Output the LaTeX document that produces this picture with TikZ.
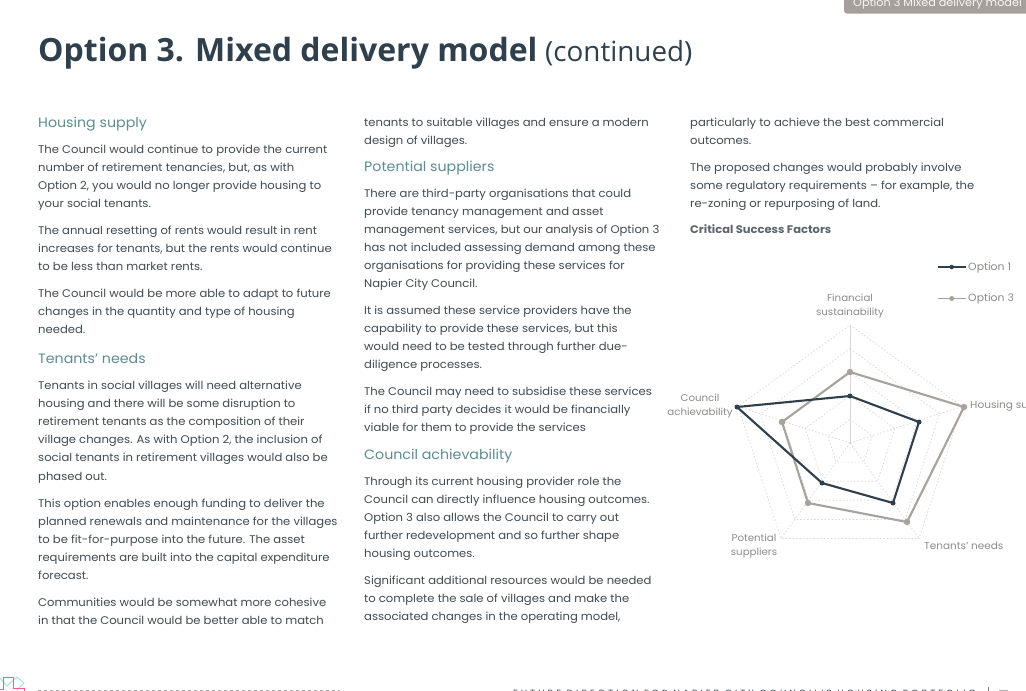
\documentclass[tikz,border=0pt]{standalone}
\usepackage{fontspec}
\usetikzlibrary{calc}
\setmainfont{Poppins}[FakeStretch=1.045]
\newfontfamily\titlefont{Open Sans}
\definecolor{bodyc}{HTML}{3F4A52}
\definecolor{headc}{HTML}{5E8C90}
\definecolor{darkc}{HTML}{2F3F4C}
\definecolor{greyc}{HTML}{A9A29C}
\definecolor{labelc}{HTML}{8C8C8A}
\definecolor{gridc}{HTML}{D8D8D8}
\definecolor{tabc}{HTML}{A5A09B}
\definecolor{logop}{HTML}{F0608F}
\definecolor{logoc}{HTML}{A0E0E4}
\newcounter{tln}
\newcommand{\tl}[3]{\stepcounter{tln}\node[bodyline] (t\arabic{tln}) at (#1,#2+4) {#3};}
\newcommand{\hd}[3]{\stepcounter{tln}\node[headline] (t\arabic{tln}) at (#1,#2+5) {#3};}
\tikzset{
 bodyline/.style={anchor=base west,inner sep=0,text=bodyc,font=\fontsize{11.1}{12}\selectfont},
 headline/.style={anchor=base west,inner sep=0,text=headc,font=\fontsize{13.6}{15}\selectfont},
 axislabel/.style={inner sep=0,text=labelc,font=\fontsize{9.8}{14}\selectfont,align=center},
 gridline/.style={draw=gridc,line width=.7pt,dash pattern=on 1.5pt off 2pt},
 serone/.style={draw=darkc,line width=2.1pt,line join=round},
 sertwo/.style={draw=greyc,line width=2.1pt,line join=round},
 dotone/.style={circle,fill=darkc,inner sep=0,minimum size=5pt},
 dottwo/.style={circle,fill=greyc,inner sep=0,minimum size=6.5pt},
}
\begin{document}
\begin{tikzpicture}[x=1pt,y=-1pt]
\useasboundingbox (0,0) rectangle (1026,691);
\clip (0,0) rectangle (1026,691);
\fill[white] (0,0) rectangle (1026,691);
% tab
\fill[tabc,rounded corners=3pt] (844,-10) rectangle (1040,13.5);
\node[anchor=base west,inner sep=0,text=white!92!tabc,font=\fontsize{10.75}{12}\selectfont] (tab) at (853,6.5) {Option 3 Mixed delivery model};
% title
\node[anchor=base west,inner sep=0,text=darkc,font=\titlefont\fontsize{32}{36}\selectfont\bfseries] (title) at (38,61) {Option 3. Mixed delivery model};
\node[anchor=base west,inner sep=0,text=darkc,font=\titlefont\fontsize{27.8}{30}\selectfont] (titlecont) at (545,61) {(continued)};
% column 1
\hd{38}{122}{Housing supply}
\tl{38}{149}{The Council would continue to provide the current}
\tl{38}{167}{number of retirement tenancies, but, as with}
\tl{38}{185}{Option 2, you would no longer provide housing to}
\tl{38}{203}{your social tenants.}
\tl{38}{230}{The annual resetting of rents would result in rent}
\tl{38}{248}{increases for tenants, but the rents would continue}
\tl{38}{266}{to be less than market rents.}
\tl{38}{293}{The Council would be more able to adapt to future}
\tl{38}{311}{changes in the quantity and type of housing}
\tl{38}{329}{needed.}
\hd{38}{358}{Tenants' needs}
\tl{38}{385}{Tenants in social villages will need alternative}
\tl{38}{403}{housing and there will be some disruption to}
\tl{38}{421}{retirement tenants as the composition of their}
\tl{38}{439}{village changes. As with Option 2, the inclusion of}
\tl{38}{457}{social tenants in retirement villages would also be}
\tl{38}{476}{phased out.}
\tl{38}{503}{This option enables enough funding to deliver the}
\tl{38}{521}{planned renewals and maintenance for the villages}
\tl{38}{539}{to be fit-for-purpose into the future. The asset}
\tl{38}{557}{requirements are built into the capital expenditure}
\tl{38}{575}{forecast.}
\tl{38}{602}{Communities would be somewhat more cohesive}
\tl{38}{620}{in that the Council would be better able to match}
% column 2
\tl{364}{122}{tenants to suitable villages and ensure a modern}
\tl{364}{140}{design of villages.}
\hd{364}{166}{Potential suppliers}
\tl{364}{193}{There are third-party organisations that could}
\tl{364}{211}{provide tenancy management and asset}
\tl{364}{229}{management services, but our analysis of Option 3}
\tl{364}{247}{has not included assessing demand among these}
\tl{364}{265}{organisations for providing these services for}
\tl{364}{283}{Napier City Council.}
\tl{364}{310}{It is assumed these service providers have the}
\tl{364}{328}{capability to provide these services, but this}
\tl{364}{346}{would need to be tested through further due-}
\tl{364}{364}{diligence processes.}
\tl{364}{391}{The Council may need to subsidise these services}
\tl{364}{409}{if no third party decides it would be financially}
\tl{364}{427}{viable for them to provide the services}
\hd{364}{454}{Council achievability}
\tl{364}{481}{Through its current housing provider role the}
\tl{364}{499}{Council can directly influence housing outcomes.}
\tl{364}{517}{Option 3 also allows the Council to carry out}
\tl{364}{535}{further redevelopment and so further shape}
\tl{364}{553}{housing outcomes.}
\tl{364}{580}{Significant additional resources would be needed}
\tl{364}{598}{to complete the sale of villages and make the}
\tl{364}{616}{associated changes in the operating model,}
% column 3
\tl{690}{122}{particularly to achieve the best commercial}
\tl{690}{140}{outcomes.}
\tl{690}{167}{The proposed changes would probably involve}
\tl{690}{185}{some regulatory requirements – for example, the}
\tl{690}{203}{re-zoning or repurposing of land.}
\node[bodyline,text=bodyc!85,font=\fontsize{11}{12}\selectfont\bfseries] (csf) at (690,233) {Critical Success Factors};
% radar grid
\coordinate (c) at (850,443);
\coordinate (va) at (850,325);
\coordinate (vb) at (962,406.5);
\coordinate (vd) at (919,538.5);
\coordinate (ve) at (781,538.5);
\coordinate (vf) at (738,406.5);
\foreach \r in {0.2,0.4,0.6,0.8,1}{
  \draw[gridline] ($(c)!\r!(va)$) -- ($(c)!\r!(vb)$) -- ($(c)!\r!(vd)$) -- ($(c)!\r!(ve)$) -- ($(c)!\r!(vf)$) -- cycle;
}
\draw[draw=gridc,line width=.7pt] (c) -- (va);
\foreach \v in {vb,vd,ve,vf}{\draw[gridline] (c) -- (\v);}
% series Option 3
\coordinate (p1) at (850,372);
\coordinate (p2) at (964,407);
\coordinate (p3) at (907,522);
\coordinate (p4) at (808,503);
\coordinate (p5) at (782,422);
\draw[sertwo] (p1) -- (p2) -- (p3) -- (p4) -- (p5) -- cycle;
\foreach \p in {p1,p2,p3,p4,p5}{\node[dottwo] at (\p) {};}
% series Option 1
\coordinate (q1) at (850,396);
\coordinate (q2) at (919,422);
\coordinate (q3) at (893,503);
\coordinate (q4) at (822,483);
\coordinate (q5) at (737,407);
\draw[serone] (q1) -- (q2) -- (q3) -- (q4) -- (q5) -- cycle;
\foreach \q in {q1,q2,q3,q4,q5}{\node[dotone] at (\q) {};}
% axis labels
\node[axislabel] (lfin) at (850,306) {Financial\\sustainability};
\node[axislabel,anchor=west,font=\fontsize{10.1}{14}\selectfont] (lhou) at (970,406.5) {Housing su};
\node[axislabel] (lcou) at (700,406.5) {Council\\achievability};
\node[axislabel] (lpot) at (754,546) {Potential\\suppliers};
\node[axislabel,anchor=west,font=\fontsize{10}{14}\selectfont] (lten) at (924,545.5) {Tenants' needs};
% legend
\coordinate (l1a) at (938,267); \coordinate (l1b) at (965.5,267);
\coordinate (l2a) at (938,298.5); \coordinate (l2b) at (965.5,298.5);
\draw[serone,line width=1.7pt] (l1a) -- (l1b);
\node[dotone,minimum size=4.5pt] at ($(l1a)!.5!(l1b)$) {};
\node[axislabel,anchor=west,font=\fontsize{10.4}{14}\selectfont] (leg1) at (968,268) {Option 1};
\draw[sertwo,line width=1.7pt] (l2a) -- (l2b);
\node[dottwo,minimum size=5pt] at ($(l2a)!.5!(l2b)$) {};
\node[axislabel,anchor=west,font=\fontsize{10.4}{14}\selectfont] (leg3) at (968,299) {Option 3};
% footer
\draw[logoc,line width=.9pt] (0,678) -- (7,686) -- (17,677) -- (24,683) -- (17,690);
\draw[logop,line width=1pt] (0,689) -- (3,689) -- (3,677.5) -- (13,677.5) -- (13,688.5) -- (24,688.5) -- (24,691);
\draw[gray!70,line width=1.2pt,dash pattern=on 3pt off 3pt] (38,691) -- (340,691);
\node[anchor=base west,inner sep=0,text=darkc,font=\fontsize{9}{11}\selectfont\addfontfeature{LetterSpace=33}] (foot) at (513,696) {FUTURE DIRECTION FOR NAPIER CITY COUNCIL'S HOUSING PORTFOLIO};
\draw[bodyc!70,line width=.6pt] (988,686.5) -- (988,691);
\draw[gray!60,line width=1pt] (999,690.5) -- (1008,690.5);
\end{tikzpicture}
\end{document}
